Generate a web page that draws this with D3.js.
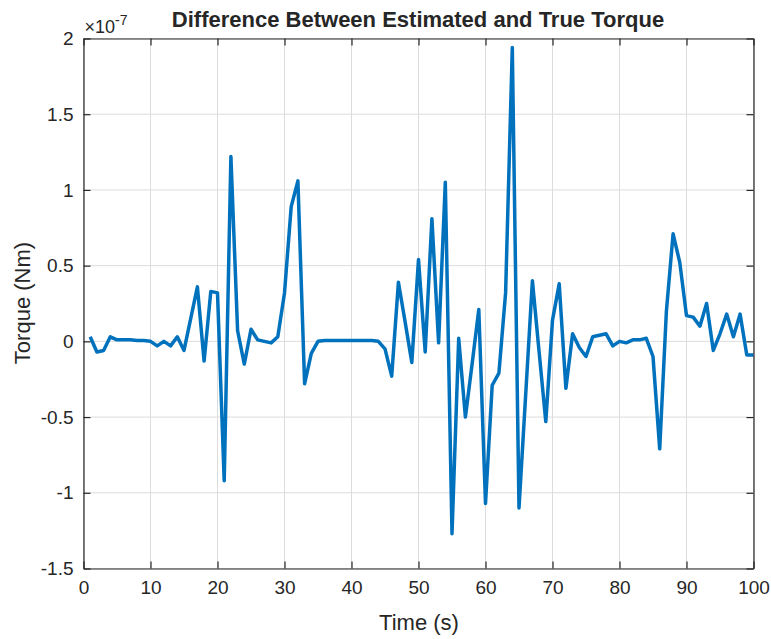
<!DOCTYPE html>
<html>
<head>
<meta charset="utf-8">
<script src="https://cdn.jsdelivr.net/npm/d3@7"></script>
<style>
  body { margin: 0; background: #fff; }
  text { font-family: "Liberation Sans", Arial, sans-serif; fill: #262626; }
</style>
</head>
<body>
<svg class="canvas"></svg>
<script>
// time (s) and torque difference (x 1e-7 Nm)
let time = d3.range(1, 101);
let torque = [
  0.03, -0.07, -0.06, 0.03, 0.01, 0.01, 0.01, 0.005, 0.005, 0.0,
  -0.03, 0.0, -0.03, 0.03, -0.06, 0.15, 0.36, -0.13, 0.33, 0.32,
  -0.92, 1.22, 0.07, -0.15, 0.08, 0.01, 0.0, -0.01, 0.03, 0.32,
  0.89, 1.06, -0.28, -0.08, 0.0, 0.005, 0.005, 0.005, 0.005, 0.005,
  0.005, 0.005, 0.005, 0.0, -0.05, -0.23, 0.39, 0.13, -0.14, 0.54,
  -0.07, 0.81, -0.01, 1.05, -1.27, 0.02, -0.5, -0.15, 0.21, -1.07,
  -0.29, -0.21, 0.32, 1.94, -1.1, -0.35, 0.40, -0.07, -0.53, 0.14,
  0.38, -0.31, 0.05, -0.04, -0.1, 0.03, 0.04, 0.05, -0.03, 0.0,
  -0.01, 0.01, 0.01, 0.02, -0.1, -0.71, 0.2, 0.71, 0.52, 0.17,
  0.16, 0.1, 0.25, -0.06, 0.05, 0.18, 0.03, 0.18, -0.09, -0.09
];
let xTicks = d3.range(0, 101, 10);
let yTicks = [-1.5, -1, -0.5, 0, 0.5, 1, 1.5, 2];

let width = 771;
let height = 639;
let plotLeft = 83.5, plotRight = 753.5, plotTop = 38.5, plotBottom = 568.5;
let ink = "#262626";

var svg = d3.select(".canvas")
    .attr("width", width)
    .attr("height", height)

let x = d3.scaleLinear().domain([0, 100]).range([plotLeft, plotRight]);
let y = d3.scaleLinear().domain([-1.5, 2]).range([plotBottom, plotTop]);

// grid
let grid = svg.append("g")
grid.selectAll(".gx").data(xTicks).enter().append("line")
    .attr("x1", d => x(d)).attr("x2", d => x(d))
    .attr("y1", plotTop).attr("y2", plotBottom)
    .attr("stroke", "#dcdcdc").attr("stroke-width", 1)
grid.selectAll(".gy").data(yTicks).enter().append("line")
    .attr("y1", d => y(d)).attr("y2", d => y(d))
    .attr("x1", plotLeft).attr("x2", plotRight)
    .attr("stroke", "#dcdcdc").attr("stroke-width", 1)

// data line
let line = d3.line().x((d, i) => x(time[i])).y(d => y(d));
svg.append("path")
    .datum(torque)
    .attr("d", line)
    .attr("fill", "none")
    .attr("stroke", "#0072BD")
    .attr("stroke-width", 3.5)
    .attr("stroke-linejoin", "round")

// axes, ticks inside like matlab
function styleAxis(g) {
    g.select(".domain").attr("stroke", ink).attr("stroke-width", 1.2)
    g.selectAll(".tick line").attr("stroke", ink).attr("stroke-width", 1.2)
    g.selectAll(".tick text").attr("font-size", "19px").attr("fill", ink)
        .attr("font-family", "Liberation Sans, Arial, sans-serif")
}
let plainNum = d => String(d);

svg.append("g").attr("transform", `translate(0,${plotBottom})`)
    .call(d3.axisBottom(x).tickValues(xTicks).tickSizeInner(-7).tickSizeOuter(0).tickPadding(12).tickFormat(plainNum))
    .call(styleAxis)
svg.append("g").attr("transform", `translate(0,${plotTop})`)
    .call(d3.axisTop(x).tickValues(xTicks).tickSizeInner(-7).tickSizeOuter(0).tickFormat(""))
    .call(styleAxis)
svg.append("g").attr("transform", `translate(${plotLeft},0)`)
    .call(d3.axisLeft(y).tickValues(yTicks).tickSizeInner(-7).tickSizeOuter(0).tickPadding(10).tickFormat(plainNum))
    .call(styleAxis)
svg.append("g").attr("transform", `translate(${plotRight},0)`)
    .call(d3.axisRight(y).tickValues(yTicks).tickSizeInner(-7).tickSizeOuter(0).tickFormat(""))
    .call(styleAxis)

// exponent label
let ex = svg.append("text").attr("x", plotLeft + 1).attr("y", 33).attr("font-size", "18px")
ex.append("tspan").text("\u00d710")
ex.append("tspan").attr("dy", -8).attr("font-size", "14px").text("-7")

// title and labels
svg.append("text").attr("x", 418).attr("y", 27)
    .attr("text-anchor", "middle").attr("font-weight", "bold").attr("font-size", "22px")
    .attr("fill", "#000")
    .text("Difference Between Estimated and True Torque")
svg.append("text").attr("x", 419).attr("y", 630)
    .attr("text-anchor", "middle").attr("font-size", "22px")
    .text("Time (s)")
svg.append("text").attr("transform", `translate(30,303) rotate(-90)`)
    .attr("text-anchor", "middle").attr("font-size", "22px")
    .text("Torque (Nm)")
</script>
</body>
</html>
